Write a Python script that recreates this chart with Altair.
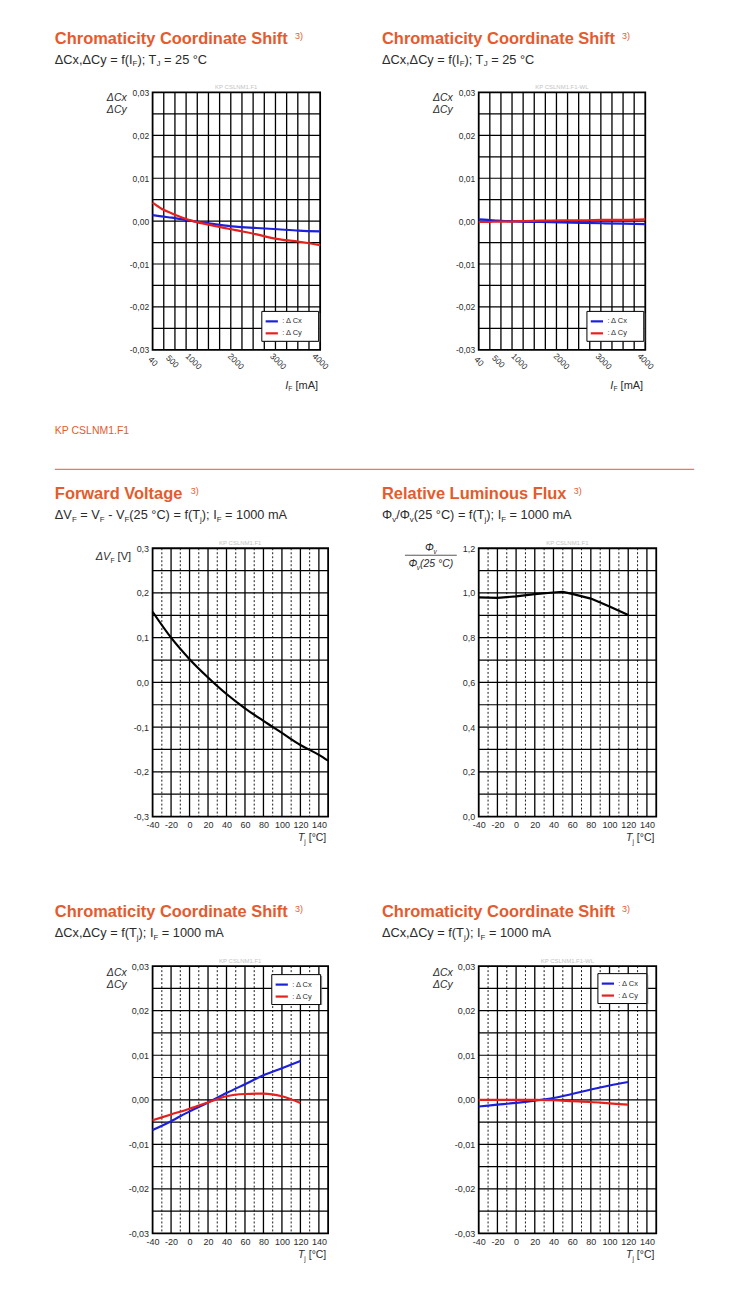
import altair as alt
import pandas as pd

FONT = "Liberation Sans"
ORANGE = "#e55b2d"
ORANGE_LINE = "#ec7a52"
DARK = "#2b2b2b"
GREY_WM = "#c4c4c4"
BLUE = "#1c20d9"
RED = "#e5211d"

# ---------------- data ----------------
SERIES = ["Δ Cx", "Δ Cy"]

IF_MA = [40, 250, 500, 750, 1000, 1500, 2000, 2500, 3000, 3500, 4000]
DCX_IF = [0.0014, 0.0011, 0.0008, 0.0004, 0.0, -0.0007, -0.0013, -0.0016, -0.0019, -0.0022, -0.0024]
DCY_IF = [0.0043, 0.0029, 0.0018, 0.0008, 0.0, -0.0011, -0.0021, -0.0031, -0.0042, -0.0048, -0.0056]
DCX_IF_WL = [0.0004, 0.0003, 0.0001, 0.0, -0.0001, -0.0002, -0.0003, -0.0004, -0.0005, -0.0006, -0.0007]
DCY_IF_WL = [-0.0002, -0.0002, -0.0001, -0.0001, 0.0, 0.0001, 0.0002, 0.0002, 0.0003, 0.0003, 0.0004]

TJ_VF = [-40, -20, 0, 20, 40, 60, 80, 100, 120, 140, 150]
DVF = [0.158, 0.100, 0.052, 0.011, -0.026, -0.058, -0.086, -0.113, -0.140, -0.162, -0.175]

TJ_FLUX = [-40, -20, 0, 20, 40, 50, 60, 80, 100, 120]
FLUX = [0.980, 0.978, 0.985, 0.995, 1.002, 1.005, 0.996, 0.975, 0.940, 0.901]

TJ_C = [-40, -20, 0, 20, 40, 60, 80, 100, 120]
DCX_T = [-0.0068, -0.0048, -0.0026, -0.0006, 0.0015, 0.0035, 0.0055, 0.0071, 0.0087]
DCY_T = [-0.0046, -0.0033, -0.0020, -0.0006, 0.0008, 0.0013, 0.0014, 0.0008, -0.0007]
DCX_T_WL = [-0.0015, -0.0011, -0.0007, -0.0002, 0.0004, 0.0013, 0.0023, 0.0032, 0.0040]
DCY_T_WL = [0.0, 0.0, 0.0, 0.0, -0.0001, -0.0003, -0.0005, -0.0008, -0.0011]

# ---------------- ticks / grid ----------------
IF_TICKS = [40, 500, 1000, 2000, 3000, 4000]
IF_GRID = [304, 568, 832, 1096, 1360, 1624, 1888, 2152, 2416, 2680, 2944, 3208, 3472, 3736]
C_TICKS = [-0.03, -0.02, -0.01, 0.0, 0.01, 0.02, 0.03]
C_GRID = [-0.025, -0.02, -0.015, -0.01, -0.005, 0.0, 0.005, 0.01, 0.015, 0.02, 0.025]
T_TICKS = [-40, -20, 0, 20, 40, 60, 80, 100, 120, 140]
T_GRID_SOLID = [-20, 0, 20, 40, 60, 80, 100, 120, 140]
T_GRID_DASH = [-30, -10, 10, 30, 50, 70, 90, 110, 130]
VF_TICKS = [-0.3, -0.2, -0.1, 0.0, 0.1, 0.2, 0.3]
VF_GRID = [-0.25, -0.2, -0.15, -0.1, -0.05, 0.0, 0.05, 0.1, 0.15, 0.2, 0.25]
FLUX_TICKS = [0.0, 0.2, 0.4, 0.6, 0.8, 1.0, 1.2]
FLUX_GRID = [0.1, 0.2, 0.3, 0.4, 0.5, 0.6, 0.7, 0.8, 0.9, 1.0, 1.1]

# ---------------- text metrics (Arial / Liberation Sans) ----------------
W_REG = {" ": 278, "(": 333, ")": 333, ",": 278, "-": 333, ".": 278, "/": 278, ";": 278,
         "=": 584, "A": 667, "C": 722, "F": 611, "I": 278, "J": 500, "K": 667, "L": 556,
         "M": 833, "N": 722, "P": 667, "S": 667, "T": 611, "V": 667, "W": 944, "f": 278,
         "j": 222, "m": 833, "v": 500, "x": 500, "y": 500, "°": 400, "Δ": 668, "Φ": 798}
for d in "0123456789":
    W_REG[d] = 556
W_BOLD = {" ": 278, "C": 722, "h": 611, "r": 389, "o": 611, "m": 889, "a": 556, "t": 333,
          "i": 278, "c": 556, "y": 556, "d": 611, "n": 611, "e": 556, "S": 667, "f": 333,
          "F": 611, "w": 778, "V": 667, "l": 278, "g": 611, "R": 722, "v": 556, "L": 611,
          "u": 611, "s": 556, "x": 556}


def tw(s, fs, bold=False):
    tbl = W_BOLD if bold else W_REG
    return sum(tbl.get(c, 556) for c in s) * fs / 1000.0


def txt(rows, t, x, y, fs, col=DARK, st="normal"):
    lead = len(t) - len(t.lstrip(" "))
    x += tw(" " * lead, fs)
    rows.append(dict(t=t.strip(" "), px=x, py=y, fs=fs, col=col, st=st))


SUB = 0.62


def rich(rows, parts, x, y, fs, col=DARK):
    for p in parts:
        t, sub = p[0], p[1]
        st = p[2] if len(p) > 2 else "normal"
        f = fs * SUB if sub else fs
        txt(rows, t, x, y + (fs * 0.22 if sub else 0), f, col, st)
        x += tw(t, f)
    return x


def rich_w(parts, fs):
    return sum(tw(p[0], fs * SUB if p[1] else fs) for p in parts)


def header(rows, title, parts, x0):
    txt(rows, title, x0, -49, 16.5, ORANGE, "bold")
    txt(rows, "3)", x0 + tw(title, 16.5, True) + 7, -54, 9, ORANGE)
    rich(rows, parts, x0, -29, 12.8)


def watermark(rows, w, label):
    txt(rows, label, w / 2 - tw(label, 6) / 2, -3, 6, GREY_WM)


def dc_ytitle(rows, b1, b2):
    for lab, yb in (("ΔCx", b1), ("ΔCy", b2)):
        txt(rows, lab, -26 - tw(lab, 10.5), yb, 10.5, DARK, "italic")


def tj_xtitle(rows, w, h):
    parts = [("T", False, "italic"), ("j", True), (" [°C]", False)]
    rich(rows, parts, w + 4 - rich_w(parts, 10.5), h + 25, 10.5)


# ---------------- axes ----------------
def yax(vals, fmt, fs, pad):
    return alt.Axis(values=vals,
                    labelExpr="replace(replace(format(datum.value, '" + fmt + "'), '.', ','), '\u2212', '-')",
                    grid=False, ticks=False, domain=False, title=None, labelFont=FONT,
                    labelFontSize=fs, labelPadding=pad, labelColor=DARK, labelFlush=False,
                    labelOverlap=False)


def xax_if():
    return alt.Axis(values=IF_TICKS, labelExpr="format(datum.value, 'd')", grid=False, ticks=False,
                    domain=False, title=None, labelFont=FONT, labelFontSize=8.5, labelAngle=45,
                    labelAlign="center", labelBaseline="middle", labelPadding=11, labelColor=DARK,
                    labelFlush=False, labelOverlap=False)


def xax_t():
    return alt.Axis(values=T_TICKS, labelExpr="replace(format(datum.value, 'd'), '\u2212', '-')",
                    grid=False, ticks=False, domain=False, title=None, labelFont=FONT,
                    labelFontSize=9, labelPadding=4, labelColor=DARK, labelFlush=False,
                    labelOverlap=False)


def pix_x(f):
    return alt.X(f + ":Q", scale=None, axis=None)


def pix_y(f):
    return alt.Y(f + ":Q", scale=None, axis=None)


def panel(w, h, xdom, ydom, xaxis, yaxis, hgrid, vsolid, vdash, series, rows,
          rules=None, rects=None, legend=None, interp="monotone"):
    xs = alt.Scale(domain=xdom, nice=False, zero=False)
    ys = alt.Scale(domain=ydom, nice=False, zero=False)
    layers = [
        alt.Chart(pd.DataFrame({"v": hgrid})).mark_rule(color="black", strokeWidth=1.2)
        .encode(y=alt.Y("v:Q", scale=ys, axis=yaxis)),
        alt.Chart(pd.DataFrame({"v": vsolid})).mark_rule(color="black", strokeWidth=1.3)
        .encode(x=alt.X("v:Q", scale=xs, axis=xaxis)),
    ]
    if vdash:
        layers.append(alt.Chart(pd.DataFrame({"v": vdash}))
                      .mark_rule(color="black", strokeWidth=0.9, strokeDash=[2, 2])
                      .encode(x=alt.X("v:Q", scale=xs, axis=xaxis)))
    if legend is not None:
        lx, ly, lw, lh, pad_n = legend
        # drop shadow of the legend box
        layers.append(alt.Chart(pd.DataFrame([dict(x1=lx + 2, x2=lx + lw + 2, y1=ly + 2, y2=ly + lh + 2)]))
                      .mark_rect(color="#7a7a7a", opacity=0.75)
                      .encode(x=pix_x("x1"), x2="x2:Q", y=pix_y("y1"), y2="y2:Q"))
    recs = []
    for name, xv, yv in series:
        for a, b in zip(xv, yv):
            recs.append(dict(x=a, y=b, s=name))
    ldf = pd.DataFrame(recs)
    if legend is not None:
        pad_txt = "\u00a0" * pad_n + "\u200b"
        leg = alt.Legend(title=None, orient="none", legendX=lx, legendY=ly,
                         direction="vertical", fillColor="white", strokeColor="black", padding=3,
                         labelFont=FONT, labelFontSize=7.5, labelColor=DARK,
                         labelExpr="': ' + datum.label + '" + pad_txt + "'",
                         symbolType="stroke", symbolSize=150, symbolStrokeWidth=2.2, rowPadding=0,
                         labelOffset=3, cornerRadius=0, labelLimit=80)
        layers.append(alt.Chart(ldf).mark_line(strokeWidth=2.2, interpolate=interp).encode(
            x=alt.X("x:Q", scale=xs, axis=xaxis),
            y=alt.Y("y:Q", scale=ys, axis=yaxis),
            color=alt.Color("s:N", scale=alt.Scale(domain=SERIES, range=[BLUE, RED]), legend=leg),
        ))
    else:
        layers.append(alt.Chart(ldf).mark_line(strokeWidth=2.2, color="black", interpolate=interp)
                      .encode(x=alt.X("x:Q", scale=xs, axis=xaxis),
                              y=alt.Y("y:Q", scale=ys, axis=yaxis)))
    if rules:
        layers.append(alt.Chart(pd.DataFrame(rules)).mark_rule().encode(
            x=pix_x("x1"), x2="x2:Q", y=pix_y("y1"),
            color=alt.Color("col:N", scale=None, legend=None),
            strokeWidth=alt.StrokeWidth("sw:Q", scale=None, legend=None)))
    if rects:
        layers.append(alt.Chart(pd.DataFrame(rects)).mark_rect(opacity=0).encode(
            x=pix_x("x1"), x2="x2:Q", y=pix_y("y1"), y2="y2:Q"))
    tdf = pd.DataFrame(rows)
    for st in ("normal", "bold", "italic"):
        sub = tdf[tdf["st"] == st]
        if len(sub) == 0:
            continue
        kw = dict(align="left", baseline="alphabetic", font=FONT)
        if st == "bold":
            kw["fontWeight"] = "bold"
        if st == "italic":
            kw["fontStyle"] = "italic"
        layers.append(alt.Chart(sub).mark_text(**kw).encode(
            x=pix_x("px"), y=pix_y("py"), text="t:N",
            size=alt.Size("fs:Q", scale=None, legend=None),
            color=alt.Color("col:N", scale=None, legend=None)))
    return alt.layer(*layers).properties(width=w, height=h)


def spacer(h):
    return alt.Chart(pd.DataFrame({"v": [0]})).mark_point(opacity=0).encode(
        x=alt.value(0), y=alt.value(0)
    ).properties(width=1, height=h, view=alt.ViewBackground(stroke="transparent", strokeWidth=0))


CC_TITLE = "Chromaticity Coordinate Shift"

# ---------------- panel 1 ----------------
W1, H1 = 168, 258
r1 = []
header(r1, CC_TITLE, [("ΔCx,ΔCy = f(I", False), ("F", True), ("); T", False), ("J", True),
                      (" = 25 °C", False)], -98)
watermark(r1, W1, "KP CSLNM1.F1")
dc_ytitle(r1, 9, 21)
ifparts = [("I", False, "italic"), ("F", True), (" [mA]", False)]
rich(r1, ifparts, W1 + 4 - rich_w(ifparts, 11), H1 + 39, 11)
p1 = panel(W1, H1, [40, 4000], [-0.03, 0.03], xax_if(), yax(C_TICKS, ".2f", 8.5, 4), C_GRID, IF_GRID,
           None, [(SERIES[0], IF_MA, DCX_IF), (SERIES[1], IF_MA, DCY_IF)], r1,
           rects=[dict(x1=-152, x2=-151, y1=-90, y2=-89)], legend=(109, 219, 57, 29, 6))

# ---------------- panel 2 ----------------
W2 = 167
r2 = []
header(r2, CC_TITLE, [("ΔCx,ΔCy = f(I", False), ("F", True), ("); T", False), ("J", True),
                      (" = 25 °C", False)], -97)
watermark(r2, W2, "KP CSLNM1.F1-WL")
dc_ytitle(r2, 9, 21)
rich(r2, ifparts, W2 + 4 - rich_w(ifparts, 11), H1 + 39, 11)
p2 = panel(W2, H1, [40, 4000], [-0.03, 0.03], xax_if(), yax(C_TICKS, ".2f", 8.5, 4), C_GRID, IF_GRID,
           None, [(SERIES[0], IF_MA, DCX_IF_WL), (SERIES[1], IF_MA, DCY_IF_WL)], r2,
           legend=(108, 219, 57, 29, 6))

# ---------------- panel 3 ----------------
W3, H2 = 176, 269
r3 = []
txt(r3, "KP CSLNM1.F1", -98, -115, 10.5, ORANGE)
header(r3, "Forward Voltage",
       [("ΔV", False), ("F", True), (" = V", False), ("F", True), (" - V", False), ("F", True),
        ("(25 °C) = f(T", False), ("j", True), ("); I", False), ("F", True), (" = 1000 mA", False)], -98)
watermark(r3, W3, "KP CSLNM1.F1")
rich(r3, [("ΔV", False, "italic"), ("F", True), (" [V]", False)], -57, 12, 11)
tj_xtitle(r3, W3, H2)
p3 = panel(W3, H2, [-40, 150], [-0.3, 0.3], xax_t(), yax(VF_TICKS, ".1f", 9, 4), VF_GRID,
           T_GRID_SOLID, T_GRID_DASH, [("VF", TJ_VF, DVF)], r3,
           rules=[dict(x1=-98, x2=543, y1=-79, col=ORANGE_LINE, sw=1.3)])

# ---------------- panel 4 ----------------
W4 = 178
r4 = []
header(r4, "Relative Luminous Flux",
       [("Φ", False), ("v", True), ("/Φ", False), ("v", True), ("(25 °C) = f(T", False), ("j", True),
        ("); I", False), ("F", True), (" = 1000 mA", False)], -97)
watermark(r4, W4, "KP CSLNM1.F1")
top = [("Φ", False, "italic"), ("v", True, "italic")]
bot = [("Φ", False, "italic"), ("v", True, "italic"), ("(25 °C)", False, "italic")]
rich(r4, top, -48 - rich_w(top, 10.5) / 2, 3, 10.5)
rich(r4, bot, -48 - rich_w(bot, 10.5) / 2, 19, 10.5)
tj_xtitle(r4, W4, H2)
p4 = panel(W4, H2, [-40, 150], [0, 1.2], xax_t(), yax(FLUX_TICKS, ".1f", 9, 4), FLUX_GRID,
           T_GRID_SOLID, T_GRID_DASH, [("Flux", TJ_FLUX, FLUX)], r4,
           rules=[dict(x1=-74, x2=-22, y1=7, col=DARK, sw=0.8)], interp="linear")

# ---------------- panel 5 ----------------
H3 = 268
r5 = []
header(r5, CC_TITLE, [("ΔCx,ΔCy = f(T", False), ("j", True), ("); I", False), ("F", True),
                      (" = 1000 mA", False)], -98)
watermark(r5, W3, "KP CSLNM1.F1")
dc_ytitle(r5, 10, 22)
tj_xtitle(r5, W3, H3)
p5 = panel(W3, H3, [-40, 150], [-0.03, 0.03], xax_t(), yax(C_TICKS, ".2f", 9, 4), C_GRID,
           T_GRID_SOLID, T_GRID_DASH, [(SERIES[0], TJ_C, DCX_T), (SERIES[1], TJ_C, DCY_T)], r5,
           legend=(119, 8, 49, 29, 2))

# ---------------- panel 6 ----------------
r6 = []
header(r6, CC_TITLE, [("ΔCx,ΔCy = f(T", False), ("j", True), ("); I", False), ("F", True),
                      (" = 1000 mA", False)], -97)
watermark(r6, W4, "KP CSLNM1.F1-WL")
dc_ytitle(r6, 10, 22)
tj_xtitle(r6, W4, H3)
p6 = panel(W4, H3, [-40, 150], [-0.03, 0.03], xax_t(), yax(C_TICKS, ".2f", 9, 4), C_GRID,
           T_GRID_SOLID, T_GRID_DASH, [(SERIES[0], TJ_C, DCX_T_WL), (SERIES[1], TJ_C, DCY_T_WL)], r6,
           rects=[dict(x1=W4 + 92, x2=W4 + 93, y1=H3 + 54, y2=H3 + 55)], legend=(119, 7, 49, 29, 2))

chart = alt.concat(
    p1, p2, spacer(199), spacer(199), p3, p4, spacer(150), spacer(150), p5, p6,
    columns=2, spacing={"row": 0, "column": 151}, bounds="flush",
).resolve_scale(color="independent").resolve_legend(color="independent").properties(
    padding=0, background="white"
).configure_view(stroke="black", strokeWidth=1.8)

chart.save("out.html", embed_options={"renderer": "svg", "actions": False})
